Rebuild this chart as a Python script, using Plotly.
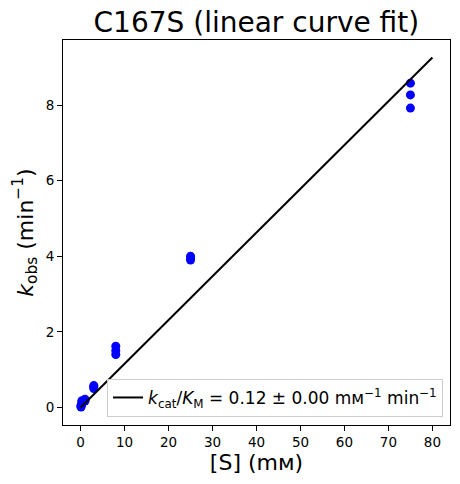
import numpy as np
import plotly.graph_objects as go

substrate_mM = [0.1, 0.1, 0.1, 0.3, 0.3, 0.3, 1, 1, 1, 3, 3, 3,
                8, 8, 8, 25, 25, 25, 75, 75, 75]
kobs = [0.01, 0.03, 0.06, 0.10, 0.15, 0.18, 0.17, 0.20, 0.22,
        0.50, 0.55, 0.58, 1.40, 1.50, 1.62, 3.90, 3.95, 4.00,
        7.92, 8.27, 8.58]
fit_x = [0, 80]
x_ticks = [0, 10, 20, 30, 40, 50, 60, 70, 80]
y_ticks = [0, 2, 4, 6, 8]

xs = np.array(substrate_mM)
ys = np.array(kobs)
slope = float(np.sum(xs * ys) / np.sum(xs * xs))
resid = ys - slope * xs
se = float(np.sqrt(np.sum(resid**2) / (len(xs) - 1) / np.sum(xs * xs)))
line_x = np.array(fit_x, dtype=float)
line_y = slope * line_x

font = "DejaVu Sans"
fig = go.Figure()
fig.add_trace(go.Scatter(
    x=xs, y=ys, mode="markers",
    marker=dict(color="#0000ff", size=9, line=dict(width=0)),
    showlegend=False,
))
fig.add_trace(go.Scatter(
    x=line_x, y=line_y, mode="lines",
    line=dict(color="black", width=2),
    name=f"<i>k</i><sub>cat</sub>/<i>K</i><sub>M</sub> = {slope:.2f} ± {se:.2f} mᴍ<sup>−1</sup> min<sup>−1</sup>",
))

ymax = max(line_y.max(), ys.max())
ymin = min(0.0, ys.min())
ypad = 0.05 * (ymax - ymin)
xpad = 0.05 * 80

axis_common = dict(
    showline=True, linecolor="black", linewidth=1, mirror=True,
    ticks="outside", ticklen=5, tickwidth=1, tickcolor="black",
    showgrid=False, zeroline=False, automargin=False,
    tickfont=dict(family=font, size=13.5, color="black"),
)
fig.update_layout(
    width=460, height=484,
    margin=dict(l=63, r=10, t=40, b=59, autoexpand=False),
    paper_bgcolor="white", plot_bgcolor="white",
    font=dict(family=font, color="black"),
    title=dict(text="C167S (linear curve fit)", x=0.5573, xanchor="center",
               y=0.955, yanchor="middle", font=dict(size=28, family=font, color="black")),
    xaxis=dict(range=[-xpad, 80 + xpad], tickvals=x_ticks,
               title=dict(text="[S] (mᴍ)", font=dict(size=22, family=font), standoff=4),
               **axis_common),
    yaxis=dict(range=[ymin - ypad, ymax + ypad], tickvals=y_ticks,
               title=dict(text="<i>k</i><sub>obs</sub> (min<sup>−1</sup>)", font=dict(size=22, family=font), standoff=6),
               **axis_common),
    legend=dict(x=0.982, xanchor="right", y=0.021, yanchor="bottom",
                bgcolor="rgba(255,255,255,0.8)", bordercolor="#cccccc", borderwidth=1,
                font=dict(size=17, family=font, color="black")),
)
fig.write_html("out.html", config={"displayModeBar": False},
               post_script="document.body.style.margin='0px';")
